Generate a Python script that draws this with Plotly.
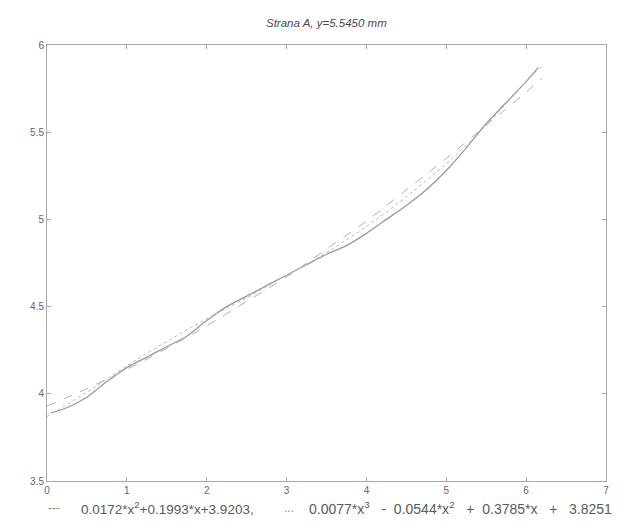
import plotly.graph_objects as go

# measured profile (solid)
x_data = [0.05, 0.25, 0.5, 0.75, 1.0, 1.25, 1.5, 1.75, 2.0, 2.25, 2.5, 2.75, 3.0,
          3.25, 3.5, 3.75, 4.0, 4.25, 4.5, 4.75, 5.0, 5.25, 5.5, 5.75, 6.0, 6.15]
y_data = [3.89, 3.92, 3.98, 4.07, 4.15, 4.21, 4.27, 4.33, 4.42, 4.50, 4.56, 4.62, 4.68,
          4.74, 4.80, 4.85, 4.92, 5.00, 5.08, 5.17, 5.28, 5.41, 5.55, 5.67, 5.79, 5.87]

# quadratic fit (dashed)
x_quad = [0.0, 0.5, 1.0, 1.5, 2.0, 2.5, 3.0, 3.5, 4.0, 4.5, 5.0, 5.5, 6.0, 6.2]
y_quad = [3.93, 4.03, 4.14, 4.26, 4.39, 4.53, 4.67, 4.83, 4.99, 5.17, 5.35, 5.54, 5.73, 5.81]

# cubic fit (dotted)
x_cub = [0.0, 0.5, 1.0, 1.5, 2.0, 2.5, 3.0, 3.5, 4.0, 4.5, 5.0, 5.5, 6.0, 6.2]
y_cub = [3.87, 4.01, 4.16, 4.30, 4.43, 4.55, 4.68, 4.81, 4.96, 5.13, 5.32, 5.54, 5.79, 5.88]

x_ticks = [0, 1, 2, 3, 4, 5, 6, 7]
y_ticks = [3.5, 4, 4.5, 5, 5.5, 6]
y_tick_text = ["3.5", "4", "4.5", "5", "5.5", "6"]

title_text = "Strana A, y=5.5450 mm"
label_quad = "0.0172*x<sup>2</sup>+0.1993*x+3.9203,"
label_cub = ("0.0077*x<sup>3</sup>&nbsp;&nbsp;&nbsp;-&nbsp;&nbsp;0.0544*x<sup>2</sup>&nbsp;&nbsp;&nbsp;+&nbsp;&nbsp;"
             "0.3785*x&nbsp;&nbsp;&nbsp;+&nbsp;&nbsp;&nbsp;3.8251")

FONT = "Liberation Sans, Arial"
TXT = "#5a5a5a"

fig = go.Figure()
fig.add_trace(go.Scatter(x=x_data, y=y_data, mode="lines",
                         line=dict(color="#9a9a9a", width=1.3, shape="spline", smoothing=0.6)))
fig.add_trace(go.Scatter(x=x_quad, y=y_quad, mode="lines",
                         line=dict(color="#b0b0b0", width=1, dash="dash", shape="spline")))
fig.add_trace(go.Scatter(x=x_cub, y=y_cub, mode="lines",
                         line=dict(color="#b8b8b8", width=1, dash="dot", shape="spline")))

axis_common = dict(showline=True, linecolor="#a8a8a8", linewidth=1, mirror="ticks",
                   ticks="inside", ticklen=4, tickcolor="#a8a8a8", showgrid=False,
                   zeroline=False, tickfont=dict(family=FONT, size=10, color="#666"))

annotations = [
    dict(text="<i>" + title_text + "</i>", xref="paper", yref="paper", x=0.5, y=1.0,
         yshift=22, xanchor="center", yanchor="middle", showarrow=False,
         font=dict(family=FONT, size=11.5, color="#4a4a4a")),
    dict(text="---", xref="paper", yref="paper", x=-0.002, y=0, yshift=-27,
         xanchor="left", yanchor="middle", showarrow=False,
         font=dict(family=FONT, size=12, color="#888")),
    dict(text=label_quad, xref="paper", yref="paper", x=0.058, y=0, yshift=-27,
         xanchor="left", yanchor="middle", showarrow=False,
         font=dict(family=FONT, size=13.5, color=TXT)),
    dict(text="...", xref="paper", yref="paper", x=0.42, y=0, yshift=-27,
         xanchor="left", yanchor="middle", showarrow=False,
         font=dict(family=FONT, size=12, color="#888")),
    dict(text=label_cub, xref="paper", yref="paper", x=0.466, y=0, yshift=-27,
         xanchor="left", yanchor="middle", showarrow=False,
         font=dict(family=FONT, size=14, color=TXT)),
]

fig.update_layout(
    width=635, height=525,
    paper_bgcolor="white", plot_bgcolor="white",
    showlegend=False,
    margin=dict(l=39, r=37, t=37, b=52),
    xaxis=dict(range=[0, 7], tickvals=x_ticks, ticktext=[str(v) for v in x_ticks], **axis_common),
    yaxis=dict(range=[3.5, 6], tickvals=y_ticks, ticktext=y_tick_text, **axis_common),
    annotations=annotations,
)

fig.write_html("out.html")
